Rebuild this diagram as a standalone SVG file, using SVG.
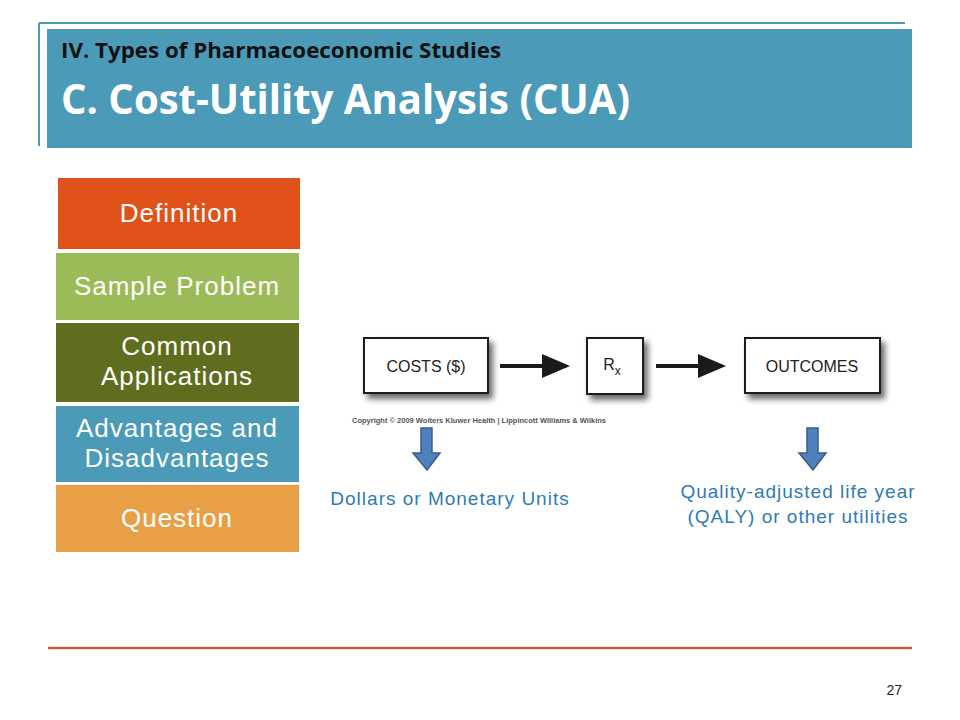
<svg xmlns="http://www.w3.org/2000/svg" width="960" height="720" viewBox="0 0 960 720">
<defs>
<style>
.nodetxt{font-family:"Liberation Sans",Arial,sans-serif;font-size:26px;letter-spacing:1px;fill:#ffffff;text-anchor:middle}
.boxtxt{font-family:"Liberation Sans",Arial,sans-serif;font-size:16px;fill:#222222;text-anchor:middle}
.bluetxt{font-family:"Liberation Sans",Arial,sans-serif;font-size:19px;letter-spacing:1px;fill:#2F7AB8;text-anchor:middle}
.box{fill:#ffffff;stroke:#1a1a1a;stroke-width:2}
.flow{stroke:#1a1a1a;stroke-width:4;fill:none}
.down{fill:#4F81BD;stroke:#385D8A;stroke-width:1.5}
</style>
<filter id="sh" x="-20%" y="-30%" width="150%" height="170%">
<feGaussianBlur in="SourceAlpha" stdDeviation="3"/>
<feOffset dx="4" dy="5" result="b"/>
<feComponentTransfer><feFuncA type="linear" slope="0.6"/></feComponentTransfer>
<feMerge><feMergeNode/><feMergeNode in="SourceGraphic"/></feMerge>
</filter>
<marker id="ah" markerWidth="7" markerHeight="6" refX="6" refY="3" orient="auto" markerUnits="strokeWidth">
<path d="M0,0 L7,3 L0,6 Z" fill="#1a1a1a"/>
</marker>
</defs>
<rect width="960" height="720" fill="#ffffff"/>

<g id="header">
<line x1="39" y1="23" x2="905" y2="23" stroke="#4A9AB8" stroke-width="2"/>
<line x1="39" y1="23" x2="39" y2="146" stroke="#4A9AB8" stroke-width="2"/>
<rect x="47" y="29" width="865" height="119" fill="#4A9AB8"/>
<text x="61" y="58" font-family="'Open Sans','Liberation Sans',sans-serif" font-weight="bold" font-size="21" fill="#111111" textLength="440" lengthAdjust="spacingAndGlyphs">IV. Types of Pharmacoeconomic Studies</text>
<text x="61" y="114" font-family="'Open Sans','Liberation Sans',sans-serif" font-weight="bold" font-size="42" fill="#ffffff" textLength="569" lengthAdjust="spacingAndGlyphs">C. Cost-Utility Analysis (CUA)</text>
</g>

<g id="node-definition">
<rect x="58" y="178" width="242" height="71" fill="#E05219"/>
<text class="nodetxt" x="179" y="222">Definition</text>
</g>
<g id="node-sample">
<rect x="56" y="253" width="243" height="67" fill="#9BBB59"/>
<text class="nodetxt" x="177" y="295">Sample Problem</text>
</g>
<g id="node-common">
<rect x="56" y="323" width="243" height="79" fill="#5F6E1E"/>
<text class="nodetxt" x="177" y="355">Common</text>
<text class="nodetxt" x="177" y="385">Applications</text>
</g>
<g id="node-advantages">
<rect x="56" y="406" width="243" height="76" fill="#4A9AB8"/>
<text class="nodetxt" x="177" y="437">Advantages and</text>
<text class="nodetxt" x="177" y="467">Disadvantages</text>
</g>
<g id="node-question">
<rect x="56" y="485" width="243" height="67" fill="#E89F45"/>
<text class="nodetxt" x="177" y="527">Question</text>
</g>

<g id="node-costs">
<rect class="box" x="364" y="338" width="124" height="55" filter="url(#sh)"/>
<text class="boxtxt" x="426" y="372">COSTS ($)</text>
</g>
<g id="node-rx">
<rect class="box" x="587" y="338" width="56" height="56" filter="url(#sh)"/>
<text class="boxtxt" x="612" y="370">R<tspan font-size="12" dy="5">x</tspan></text>
</g>
<g id="node-outcomes">
<rect class="box" x="745" y="338" width="135" height="55" filter="url(#sh)"/>
<text class="boxtxt" x="812" y="372" font-size="17">OUTCOMES</text>
</g>

<g id="connectors">
<line class="flow" x1="500" y1="366" x2="566" y2="366" marker-end="url(#ah)"/>
<line class="flow" x1="656" y1="366" x2="722" y2="366" marker-end="url(#ah)"/>
<path class="down" d="M421,428 H432 V453 H440 L427,470 L413,453 H421 Z"/>
<path class="down" d="M807,428 H818 V453 H826 L813,470 L799,453 H807 Z"/>
</g>

<text x="352" y="423" font-family="'Liberation Sans',Arial,sans-serif" font-weight="bold" font-size="7" fill="#555555" textLength="254" lengthAdjust="spacingAndGlyphs">Copyright © 2009 Wolters Kluwer Health | Lippincott Williams &amp; Wilkins</text>

<text class="bluetxt" x="450" y="505">Dollars or Monetary Units</text>
<text class="bluetxt" x="798" y="498">Quality-adjusted life year</text>
<text class="bluetxt" x="798" y="523">(QALY) or other utilities</text>

<line x1="48" y1="648" x2="912" y2="648" stroke="#C0613A" stroke-width="2.5"/>
<text x="902" y="695" font-family="'Liberation Sans',Arial,sans-serif" font-size="14" fill="#222222" text-anchor="end">27</text>
</svg>
